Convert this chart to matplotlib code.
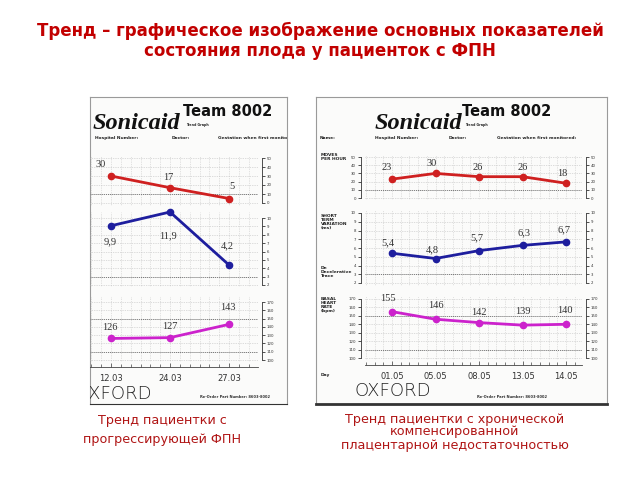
"""Two Sonicaid trend sheets (fetal state trends) on one slide."""
import matplotlib
matplotlib.use("Agg")
import matplotlib.pyplot as plt
from matplotlib.ticker import MultipleLocator, FixedLocator

W, H = 640, 480
RED = "#cf2020"
BLUE = "#1e1e9e"
MAG = "#cc22cc"
TXT = "#c20000"

# ---- data -----------------------------------------------------------------
LEFT_DAYS = ["12.03", "24.03", "27.03"]
LEFT_MOVES = [30, 17, 5]
LEFT_STV = [9.9, 11.9, 4.2]
LEFT_BHR = [126, 127, 143]

RIGHT_DAYS = ["01.05", "05.05", "08.05", "13.05", "14.05"]
RIGHT_MOVES = [23, 30, 26, 26, 18]
RIGHT_STV = [5.4, 4.8, 5.7, 6.3, 6.7]
RIGHT_BHR = [155, 146, 142, 139, 140]

MOVES_TICKS = [0, 10, 20, 30, 40, 50]
STV_TICKS = [2, 3, 4, 5, 6, 7, 8, 9, 10]
BHR_TICKS = [100, 110, 120, 130, 140, 150, 160, 170]

TITLE = "Тренд – графическое изображение основных показателей\nсостояния плода у пациенток с ФПН"
CAP_LEFT = "Тренд пациентки с\nпрогрессирующей ФПН"
CAP_RIGHT = "Тренд пациентки с хронической\nкомпенсированной\nплацентарной недостаточностью"

fig = plt.figure(figsize=(6.4, 4.8), dpi=100)
fig.patch.set_facecolor("white")


def rect(x0, y0, x1, y1):
    return [x0 / W, 1 - y1 / H, (x1 - x0) / W, (y1 - y0) / H]


def lim(pa, va, pb, vb, ptop, pbot):
    # value at pixel p, linear through (pa, va) and (pb, vb)
    k = (vb - va) / (pb - pa)
    return va + (pbot - pa) * k, va + (ptop - pa) * k


def panel(x0, y0, x1, y1, bottom_lw=0.8):
    ax = fig.add_axes(rect(x0, y0, x1, y1))
    ax.set_xlim(x0, x1); ax.set_ylim(y1, y0)
    ax.set_xticks([]); ax.set_yticks([])
    ax.set_facecolor("#fbfbfa")
    for s in ax.spines.values():
        s.set_color("#9a9a9a"); s.set_lw(0.8)
    ax.spines["bottom"].set_lw(bottom_lw); ax.spines["bottom"].set_color("#333")
    return ax


def chart(box, xp0, dx, vals, ticks, scale, color, labels, offs,
          left=False, refs=(), dscale=None, days=None, step=0.2):
    x0, y0, x1, y1 = box
    n = len(vals)
    xl = ((x0 - xp0) / dx, (x1 - xp0) / dx)
    axg = fig.add_axes(rect(*box))
    axg.patch.set_visible(False)
    axg.set_xlim(xl); axg.set_ylim(lim(*scale, y0, y1))
    for s in ("top", "left", "right", "bottom"):
        axg.spines[s].set_visible(False)
    axg.spines["right"].set_visible(True)
    axg.spines["right"].set_bounds(ticks[0], ticks[-1])
    axg.spines["right"].set_position(("outward", 3))
    axg.spines["right"].set_lw(0.6); axg.spines["right"].set_color("#333")
    if left:
        axg.spines["left"].set_visible(True)
        axg.spines["left"].set_bounds(ticks[0], ticks[-1])
        axg.spines["left"].set_position(("outward", 3))
        axg.spines["left"].set_lw(0.6); axg.spines["left"].set_color("#333")
    axg.yaxis.set_major_locator(FixedLocator(ticks))
    axg.tick_params(axis="y", direction="out", length=2.5, width=0.6, labelsize=2.8,
                    pad=1, colors="#333", right=True, labelright=True,
                    left=left, labelleft=left)
    axg.xaxis.set_major_locator(MultipleLocator(1))
    axg.xaxis.set_minor_locator(MultipleLocator(step))
    axg.grid(axis="y", color="#bdbdbd", ls=(0, (1, 1.5)), lw=0.5)
    axg.grid(axis="x", which="both", color="#c8c8c8", ls=(0, (1, 1.5)), lw=0.5)
    for r in refs:
        axg.axhline(r, color="#777", ls=(0, (1, 1)), lw=0.7)
    if days:
        sp = axg.spines["bottom"]
        sp.set_visible(True); sp.set_position(("outward", 3.6))
        sp.set_lw(0.6); sp.set_color("#444")
        axg.set_xticks(range(n), days)
        axg.tick_params(axis="x", which="major", direction="in", length=3, width=0.5,
                        labelsize=6, pad=5, colors="#333")
        axg.tick_params(axis="x", which="minor", direction="in", length=2, width=0.5,
                        colors="#444")
    else:
        axg.tick_params(axis="x", which="both", length=0, labelbottom=False)

    ax = fig.add_axes(rect(*box))
    ax.patch.set_visible(False)
    ax.set_xlim(xl); ax.set_ylim(lim(*(dscale or scale), y0, y1))
    ax.axis("off")
    ax.plot(range(n), vals, color=color, lw=2, marker="o", ms=4.5, clip_on=False)
    for i, (v, t, o) in enumerate(zip(vals, labels, offs)):
        ax.annotate(t, (i, v), xytext=(o[0] * 0.72, o[1] * 0.72),
                    textcoords="offset points", ha="center", va="center",
                    fontsize=7.5, family="Liberation Serif", color="#333")


def lab(vals):
    return [f"{v:g}".replace(".", ",") for v in vals]


def header(ax, sx, tx, fields):
    ax.text(sx, 129, "Sonicaid", family="Liberation Serif", style="italic",
            weight="bold", fontsize=17.5, color="#111", clip_on=True)
    ax.text(tx, 116.5, "Team 8002", family="DejaVu Sans", weight="heavy",
            fontsize=10.5, color="#111", clip_on=True)
    ax.text(tx + 3, 126, "Trend Graph", fontsize=2.3, weight="bold", color="#222",
            clip_on=True)
    for x, t in fields:
        ax.text(x, 138, t, fontsize=3.2, weight="bold", color="#222",
                va="center", clip_on=True)


# ---- left sheet (cropped on the left side) ------------------------------------
pl = panel(90, 97, 287, 404)
header(pl, 93, 183, [(95, "Hospital Number:"), (172, "Doctor:"),
                     (218, "Gestation when first monitored:")])
pl.text(152, 399, "OXFORD", ha="right", fontsize=13, weight="light",
        color="#222", clip_on=True)
pl.text(235, 397, "Re-Order Part Number: 8603-8002", ha="center", va="center",
        fontsize=2.6, weight="bold", color="#333", clip_on=True)

chart((90, 156, 258, 206), 111, 59, LEFT_MOVES, MOVES_TICKS,
      (203, 0, 158, 50), RED, lab(LEFT_MOVES), [(-10, 12), (-2, 10), (3, 12)],
      refs=[10], step=1 / 6)
chart((90, 212, 258, 287), 111, 59, LEFT_STV, STV_TICKS,
      (285, 2, 218, 10), BLUE, lab(LEFT_STV), [(-1, -16), (-2, -24), (-2, 19)],
      refs=[3], dscale=(265, 4.2, 212, 11.9), step=1 / 6)
chart((90, 296, 258, 362), 111, 59, LEFT_BHR, BHR_TICKS,
      (360, 100, 302, 170), MAG, lab(LEFT_BHR), [(-1, 11), (0, 11), (-1, 17)],
      refs=[110, 150], days=LEFT_DAYS, step=1 / 6)

# ---- right sheet ------------------------------------------------------------
pr = panel(316, 97, 607, 404, bottom_lw=2)
header(pr, 375, 462, [(320, "Name:"), (375, "Hospital Number:"), (449, "Doctor:"),
                      (497, "Gestation when first monitored:")])
for y, t in [(153, "MOVES\nPER HOUR"), (214, "SHORT\nTERM\nVARIATION\n(ms)"),
             (266, "De\nDecelerative\nTrace"), (297, "BASAL\nHEART\nRATE\n(bpm)"),
             (373, "Day")]:
    pr.text(321, y, t, fontsize=3.2, weight="bold", color="#222", va="top",
            linespacing=0.95)
pr.text(355, 396, "OXFORD", fontsize=13, weight="light", color="#222")
pr.text(512, 397, "Re-Order Part Number: 8603-8002", ha="center", va="center",
        fontsize=2.6, weight="bold", color="#333")

chart((365, 155, 582, 200), 392, 43.5, RIGHT_MOVES, MOVES_TICKS,
      (198, 0, 157, 50), RED, lab(RIGHT_MOVES),
      [(-5, 12), (-4, 10), (-1, 9), (0, 9), (-4, 10)], left=True, refs=[10])
chart((365, 210, 582, 286), 392, 43.5, RIGHT_STV, STV_TICKS,
      (283, 2, 213, 10), BLUE, lab(RIGHT_STV),
      [(-4, 10), (-3, 9), (-2, 13), (1, 13), (-2, 12)], left=True, refs=[3])
chart((365, 296, 582, 360), 392, 43.5, RIGHT_BHR, BHR_TICKS,
      (358, 100, 299, 170), MAG, lab(RIGHT_BHR),
      [(-4, 13), (0, 14), (0, 10), (0, 14), (-1, 14)], left=True,
      refs=[110, 150], days=RIGHT_DAYS)

# ---- slide texts --------------------------------------------------------------
fig.text(0.5, 1 - 41 / H, TITLE, ha="center", va="center", fontsize=12,
         weight="bold", color=TXT, linespacing=1.1, family="DejaVu Sans")
fig.text(162 / W, 1 - 430 / H, CAP_LEFT, ha="center", va="center", fontsize=9.2,
         color="#b01515", linespacing=1.55)
fig.text(455 / W, 1 - 432 / H, CAP_RIGHT, ha="center", va="center", fontsize=9.2,
         color="#b01515", linespacing=1.0)

fig.savefig("out.png", dpi=100)
